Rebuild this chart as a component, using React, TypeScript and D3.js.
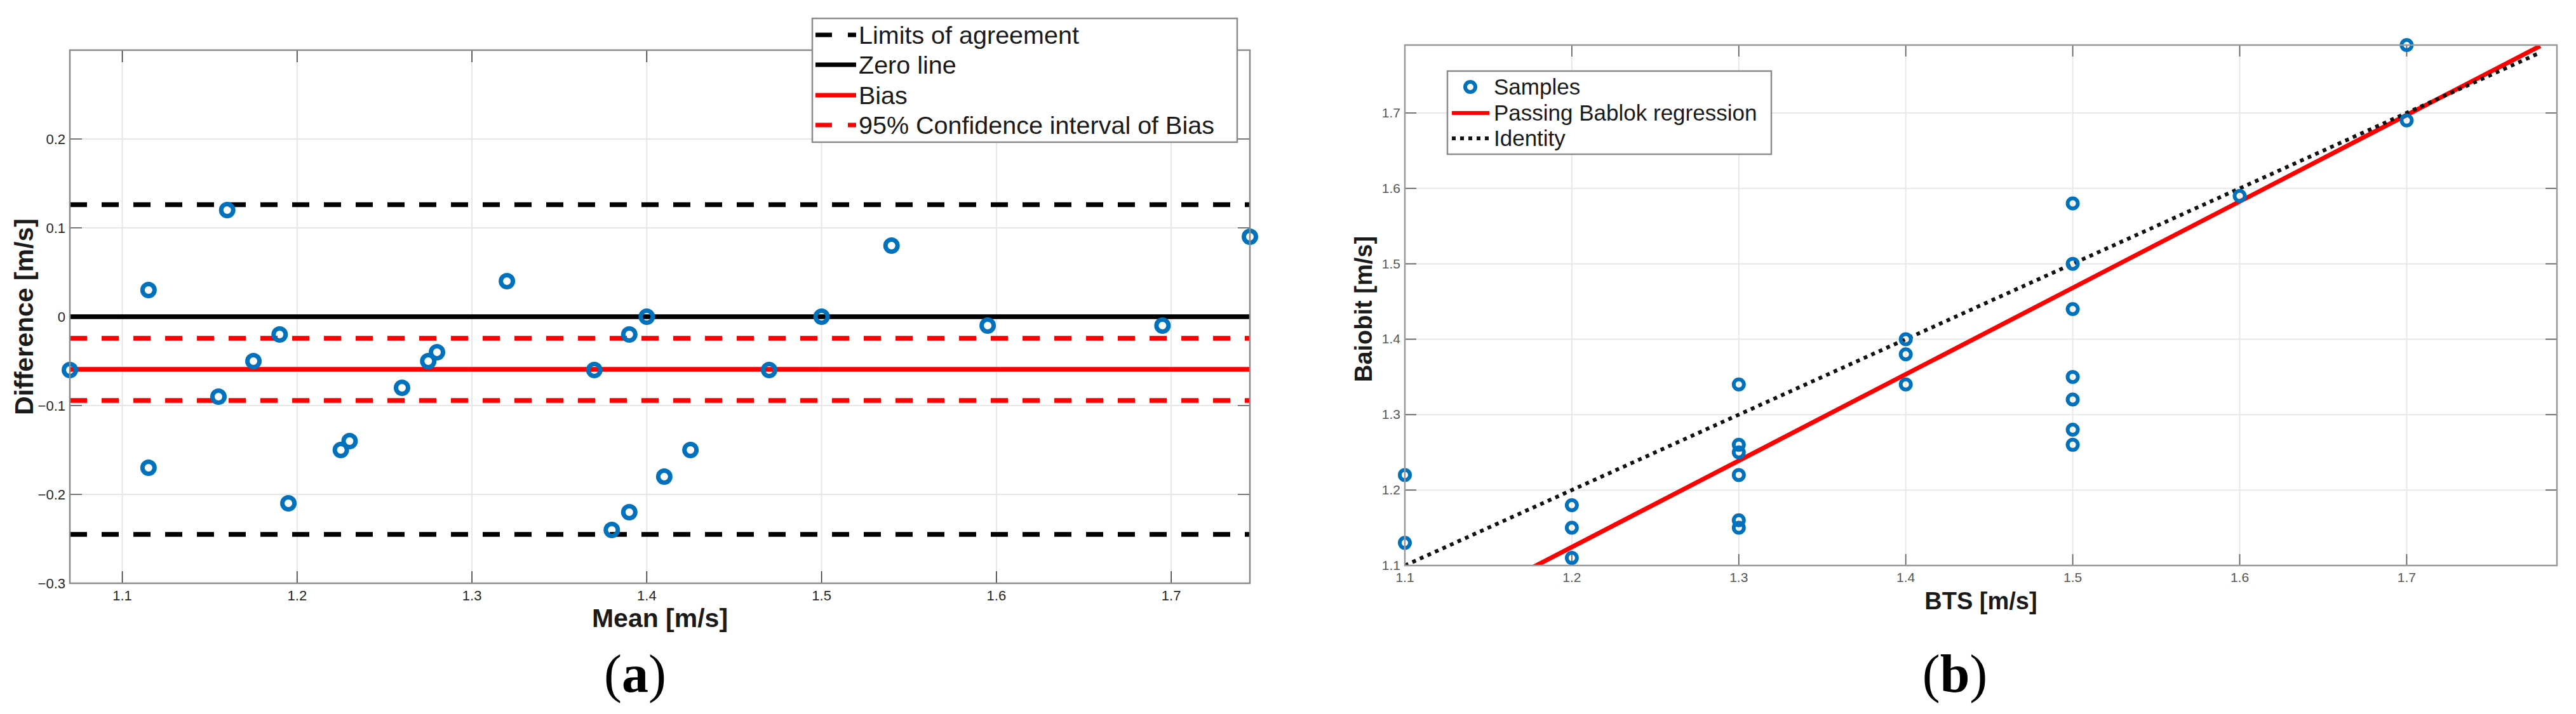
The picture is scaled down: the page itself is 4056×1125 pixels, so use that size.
import React from "react";
import * as d3 from "d3";

// ---------- Data (a): Bland-Altman ----------
const baMean = [1.07, 1.115, 1.115, 1.155, 1.16, 1.175, 1.19, 1.195, 1.225, 1.23, 1.26, 1.275, 1.28, 1.32, 1.37, 1.38, 1.39, 1.39, 1.4, 1.41, 1.425, 1.47, 1.5, 1.54, 1.595, 1.695, 1.745];
const baDiff = [-0.06, 0.03, -0.17, -0.09, 0.12, -0.05, -0.02, -0.21, -0.15, -0.14, -0.08, -0.05, -0.04, 0.04, -0.06, -0.24, -0.02, -0.22, 0, -0.18, -0.15, -0.06, 0, 0.08, -0.01, -0.01, 0.09];
const baBias = -0.0593;
const baCI = [-0.0243, -0.0943];
const baLoA = [0.126, -0.245];
const baXTicks = [1.1, 1.2, 1.3, 1.4, 1.5, 1.6, 1.7];
const baYTicks = [-0.3, -0.2, -0.1, 0, 0.1, 0.2];
const baLegend = ["Limits of agreement", "Zero line", "Bias", "95% Confidence interval of Bias"];

// ---------- Data (b): Passing-Bablok ----------
const btsValues = [1.1, 1.1, 1.2, 1.2, 1.2, 1.3, 1.3, 1.3, 1.3, 1.3, 1.3, 1.4, 1.4, 1.4, 1.5, 1.5, 1.5, 1.5, 1.5, 1.5, 1.5, 1.6, 1.7, 1.7, 1.1, 1.2, 1.3];
const baiobitValues = [1.22, 1.13, 1.18, 1.15, 1.11, 1.34, 1.26, 1.25, 1.22, 1.16, 1.15, 1.4, 1.38, 1.34, 1.58, 1.5, 1.44, 1.35, 1.32, 1.28, 1.26, 1.59, 1.79, 1.69, 1.04, 1.03, 1.09];
const pbSlope = 1.1456;
const pbIntercept = -0.2503;
const pbLineRange = [1.1, 1.78];
const pbTicks = [1.1, 1.2, 1.3, 1.4, 1.5, 1.6, 1.7];
const pbLegend = ["Samples", "Passing Bablok regression", "Identity"];

const BLUE = "#0072BD";
const RED = "#ff0000";
const FONT = "'Liberation Sans', Arial, sans-serif";
const SERIF = "'Liberation Serif', 'Times New Roman', serif";

function PanelA() {
  const L = 110, R = 1968, T = 79, B = 919;
  const x = d3.scaleLinear().domain([1.07, 1.745]).range([L, R]);
  const y = d3.scaleLinear().domain([-0.3, 0.3]).range([B, T]);
  const fmt = (v: number) => (Math.abs(v) < 1e-9 ? "0" : d3.format(".1f")(v));
  const hline = (v: number, color: string, dash?: string, key?: string) => (
    <line key={key} x1={L} x2={R} y1={y(v)} y2={y(v)} stroke={color} strokeWidth={7.5} strokeDasharray={dash} />
  );
  const lx = 1284, lx2 = 1348;
  const rowY = [55, 102, 150, 197];
  return (
    <g>
      <rect x={L} y={T} width={R - L} height={B - T} fill="#fff" />
      {baXTicks.map((t) => (
        <line key={"gx" + t} x1={x(t)} x2={x(t)} y1={T} y2={B} stroke="#e6e6e6" strokeWidth={2} />
      ))}
      {baYTicks.map((t) => (
        <line key={"gy" + t} x1={L} x2={R} y1={y(t)} y2={y(t)} stroke="#e6e6e6" strokeWidth={2} />
      ))}
      {baXTicks.map((t) => (
        <g key={"tx" + t}>
          <line x1={x(t)} x2={x(t)} y1={B} y2={B - 19} stroke="#333" strokeWidth={1.5} />
          <line x1={x(t)} x2={x(t)} y1={T} y2={T + 19} stroke="#333" strokeWidth={1.5} />
          <text x={x(t)} y={946} textAnchor="middle" fontFamily={FONT} fontSize={22} fill="#262626">{t.toFixed(1)}</text>
        </g>
      ))}
      {baYTicks.map((t) => (
        <g key={"ty" + t}>
          <line x1={L} x2={L + 19} y1={y(t)} y2={y(t)} stroke="#777" strokeWidth={2} />
          <line x1={R} x2={R - 19} y1={y(t)} y2={y(t)} stroke="#777" strokeWidth={2} />
          <text x={103} y={y(t) + 8} textAnchor="end" fontFamily={FONT} fontSize={22} fill="#262626">{fmt(t)}</text>
        </g>
      ))}
      {hline(baLoA[0], "#000", "27 23", "loa0")}
      {hline(baLoA[1], "#000", "27 23", "loa1")}
      {hline(0, "#000", undefined, "zero")}
      {hline(baBias, RED, undefined, "bias")}
      {hline(baCI[0], RED, "27 23", "ci0")}
      {hline(baCI[1], RED, "27 23", "ci1")}
      {baMean.map((m, i) => (
        <circle key={"p" + i} cx={x(m)} cy={y(baDiff[i])} r={9.5} fill="none" stroke={BLUE} strokeWidth={7} />
      ))}
      <rect x={L} y={T} width={R - L} height={B - T} fill="none" stroke="#8a8a8a" strokeWidth={2.5} />
      <text x={(L + R) / 2} y={988} textAnchor="middle" fontFamily={FONT} fontWeight="bold" fontSize={41} fill="#1a1a1a">Mean [m/s]</text>
      <text transform={`translate(52,${(T + B) / 2}) rotate(-90)`} textAnchor="middle" fontFamily={FONT} fontWeight="bold" fontSize={41} fill="#1a1a1a">Difference [m/s]</text>
      {/* legend */}
      <rect x={1279} y={29} width={669} height={195} fill="#fff" stroke="#8a8a8a" strokeWidth={2.5} />
      <line x1={lx} x2={lx2} y1={rowY[0]} y2={rowY[0]} stroke="#000" strokeWidth={7} strokeDasharray="26 25" />
      <line x1={lx} x2={lx2} y1={rowY[1]} y2={rowY[1]} stroke="#000" strokeWidth={7} />
      <line x1={lx} x2={lx2} y1={rowY[2]} y2={rowY[2]} stroke={RED} strokeWidth={7} />
      <line x1={lx} x2={lx2} y1={rowY[3]} y2={rowY[3]} stroke={RED} strokeWidth={7} strokeDasharray="26 25" />
      {baLegend.map((s, i) => (
        <text key={"lg" + i} x={1352} y={rowY[i] + 14} fontFamily={FONT} fontSize={39.5} fill="#1a1a1a">{s}</text>
      ))}
      <text x={1000} y={1090} textAnchor="middle" fontFamily={SERIF} fontSize={84} fill="#000">
        (<tspan fontWeight="bold">a</tspan>)
      </text>
    </g>
  );
}

function PanelB() {
  const L = 2212, R = 4026, T = 71, B = 891;
  const x = d3.scaleLinear().domain([1.1, 1.79]).range([L, R]);
  const y = d3.scaleLinear().domain([1.1, 1.79]).range([B, T]);
  const regPath = d3.line<number>().x((v) => x(v)).y((v) => y(pbSlope * v + pbIntercept))(pbLineRange);
  const idPath = d3.line<number>().x((v) => x(v)).y((v) => y(v))(pbLineRange);
  const pts = btsValues
    .map((b, i) => ({ b, v: baiobitValues[i] }))
    .filter((p) => p.v >= 1.1 && p.v <= 1.79);
  const rowY = [137, 178, 218];
  return (
    <g>
      <defs>
        <clipPath id="clipB">
          <rect x={L} y={T} width={R - L} height={B - T} />
        </clipPath>
      </defs>
      <rect x={L} y={T} width={R - L} height={B - T} fill="#fff" />
      {pbTicks.map((t) => (
        <g key={"g" + t}>
          <line x1={x(t)} x2={x(t)} y1={T} y2={B} stroke="#e8e8e8" strokeWidth={2} />
          <line x1={L} x2={R} y1={y(t)} y2={y(t)} stroke="#e8e8e8" strokeWidth={2} />
        </g>
      ))}
      {pbTicks.map((t) => (
        <g key={"t" + t}>
          <line x1={x(t)} x2={x(t)} y1={B} y2={B - 18} stroke="#666" strokeWidth={1.8} />
          <line x1={x(t)} x2={x(t)} y1={T} y2={T + 18} stroke="#666" strokeWidth={1.8} />
          <line x1={L} x2={L + 18} y1={y(t)} y2={y(t)} stroke="#666" strokeWidth={1.8} />
          <line x1={R} x2={R - 18} y1={y(t)} y2={y(t)} stroke="#666" strokeWidth={1.8} />
          <text x={x(t)} y={917} textAnchor="middle" fontFamily={FONT} fontSize={21} fill="#555">{t.toFixed(1)}</text>
          <text x={2205} y={y(t) + 7} textAnchor="end" fontFamily={FONT} fontSize={21} fill="#555">{t.toFixed(1)}</text>
        </g>
      ))}
      <g clipPath="url(#clipB)">
        <path d={regPath || ""} fill="none" stroke={RED} strokeWidth={7} />
        <path d={idPath || ""} fill="none" stroke="#111" strokeWidth={6} strokeDasharray="6 7" />
      </g>
      {pts.map((p, i) => (
        <circle key={"c" + i} cx={x(p.b)} cy={y(p.v)} r={8} fill="none" stroke={BLUE} strokeWidth={6} />
      ))}
      <rect x={L} y={T} width={R - L} height={B - T} fill="none" stroke="#999" strokeWidth={2.5} />
      <text x={(L + R) / 2} y={960} textAnchor="middle" fontFamily={FONT} fontWeight="bold" fontSize={38} fill="#1a1a1a">BTS [m/s]</text>
      <text transform={`translate(2160,${(T + B) / 2 + 6}) rotate(-90)`} textAnchor="middle" fontFamily={FONT} fontWeight="bold" fontSize={38} fill="#1a1a1a">Baiobit [m/s]</text>
      {/* legend */}
      <rect x={2279} y={112} width={510} height={131} fill="#fff" stroke="#8a8a8a" strokeWidth={2.5} />
      <circle cx={2315} cy={rowY[0]} r={8} fill="none" stroke={BLUE} strokeWidth={6} />
      <line x1={2286} x2={2345} y1={rowY[1]} y2={rowY[1]} stroke={RED} strokeWidth={6} />
      <line x1={2286} x2={2345} y1={rowY[2]} y2={rowY[2]} stroke="#111" strokeWidth={6} strokeDasharray="6 7" />
      {pbLegend.map((s, i) => (
        <text key={"l" + i} x={2352} y={rowY[i] + 12} fontFamily={FONT} fontSize={35} fill="#1a1a1a">{s}</text>
      ))}
      <text x={3078} y={1090} textAnchor="middle" fontFamily={SERIF} fontSize={84} fill="#000">
        (<tspan fontWeight="bold">b</tspan>)
      </text>
    </g>
  );
}

export default function App() {
  return (
    <svg
      width={4056}
      height={1125}
      viewBox="0 0 4056 1125"
      style={{ position: "absolute", left: 0, top: 0, background: "#fff" }}
    >
      <rect x={0} y={0} width={4056} height={1125} fill="#fff" />
      <PanelA />
      <PanelB />
    </svg>
  );
}
